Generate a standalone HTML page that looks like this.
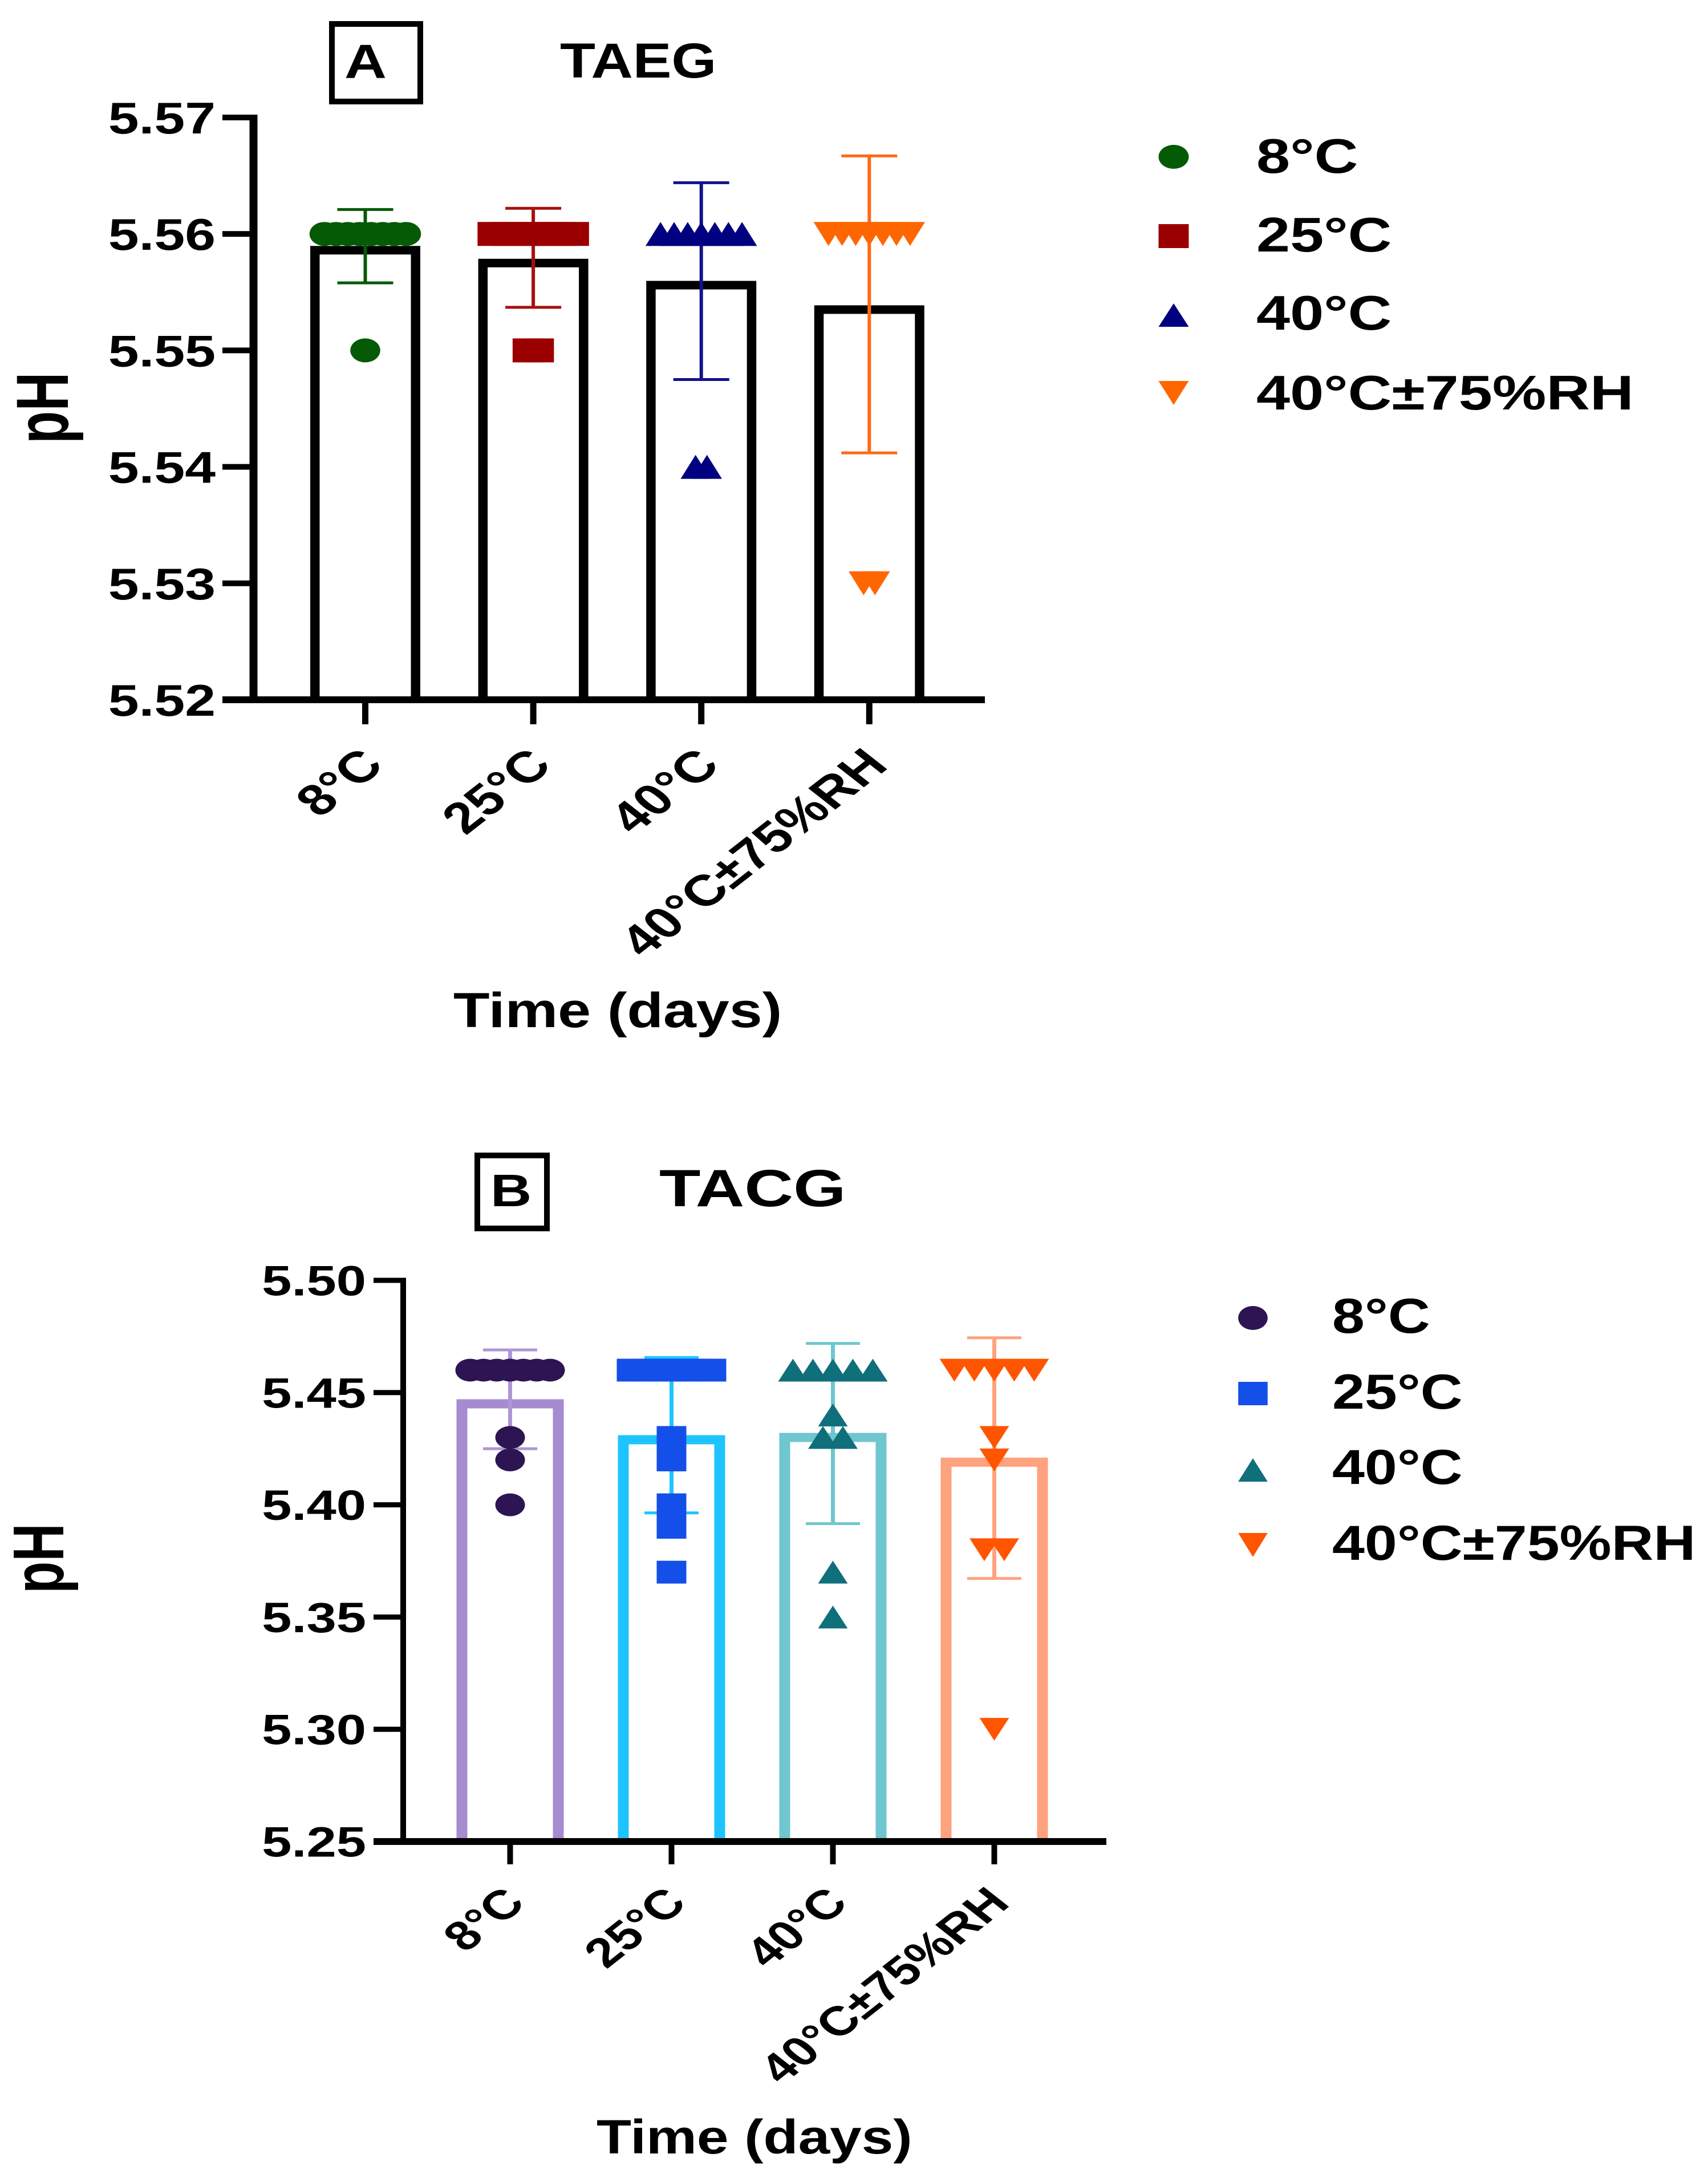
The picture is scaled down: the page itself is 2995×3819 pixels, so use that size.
<!DOCTYPE html>
<html lang="en">
<head>
<meta charset="utf-8">
<title>TAEG and TACG pH bar charts</title>
<style>
html,body{margin:0;padding:0;background:#fff;width:2995px;height:3819px;overflow:hidden}
svg{display:block}
text{font-family:"Liberation Sans",Arial,sans-serif;font-weight:bold;fill:#000}
</style>
</head>
<body>
<svg id="figure" xmlns="http://www.w3.org/2000/svg" width="2995" height="3819" viewBox="0 0 2995 3819">
  <rect x="0" y="0" width="2995" height="3819" fill="#fff"/>

  <g id="panel-a">
    <rect x="582" y="42" width="155" height="136" fill="none" stroke="#000" stroke-width="10"/>
    <text transform="translate(604,137) scale(1.22,1)" font-size="84">A</text>
    <text transform="translate(982,136) scale(1.18,1)" font-size="86">TAEG</text>
    <text transform="translate(119,778) scale(1.38,1) rotate(-90)" font-size="94">pH</text>
    <text transform="translate(795,1801) scale(1.21,1)" font-size="86">Time (days)</text>
    <g>
      <ellipse cx="2058" cy="275" rx="26.5" ry="21" fill="#045a05"/>
      <text transform="translate(2203,303) scale(1.25,1)" font-size="85">8°C</text>
      <rect x="2031.5" y="393" width="53" height="42" fill="#9b0000"/>
      <text transform="translate(2203,441) scale(1.25,1)" font-size="85">25°C</text>
      <polygon points="2058,532 2084.5,573 2031.5,573" fill="#000080"/>
      <text transform="translate(2203,578) scale(1.25,1)" font-size="85">40°C</text>
      <polygon points="2031.5,668 2084.5,668 2058,710" fill="#ff6600"/>
      <text transform="translate(2203,718) scale(1.25,1)" font-size="85">40°C±75%RH</text>
    </g>
  </g>

  <g id="panel-b">
    <rect x="837" y="2026" width="122" height="128" fill="none" stroke="#000" stroke-width="10"/>
    <text transform="translate(860,2115) scale(1.25,1)" font-size="80">B</text>
    <text transform="translate(1156,2115) scale(1.29,1)" font-size="92">TACG</text>
    <text transform="translate(111,2794) scale(1.37,1) rotate(-90)" font-size="92">pH</text>
    <text transform="translate(1046,3776) scale(1.19,1)" font-size="84">Time (days)</text>
    <g>
      <ellipse cx="2197" cy="2311" rx="25.8" ry="21" fill="#2d1452"/>
      <text transform="translate(2336,2337) scale(1.19,1)" font-size="86">8°C</text>
      <rect x="2171.2" y="2423" width="51.6" height="41" fill="#134fe8"/>
      <text transform="translate(2336,2470) scale(1.19,1)" font-size="86">25°C</text>
      <polygon points="2197,2557 2222.8,2598 2171.2,2598" fill="#0f6f7a"/>
      <text transform="translate(2336,2602) scale(1.19,1)" font-size="86">40°C</text>
      <polygon points="2171.2,2688 2222.8,2688 2197,2730" fill="#ff5500"/>
      <text transform="translate(2336,2735) scale(1.19,1)" font-size="86">40°C±75%RH</text>
    </g>
  </g>
</svg>

<script>
// Shared categories
const categories = ['8°C', '25°C', '40°C', '40°C±75%RH'];

// Panel A (TAEG) data
const taegTickLabels = ['5.52', '5.53', '5.54', '5.55', '5.56', '5.57'];
const taegMeans = [5.5586, 5.5575, 5.5556, 5.5535];
const taegErrorUpper = [5.5621, 5.5622, 5.5644, 5.5667];
const taegErrorLower = [5.5558, 5.5537, 5.5475, 5.5412];
const taegPoints8C = [5.56, 5.56, 5.56, 5.56, 5.56, 5.56, 5.56, 5.56, 5.55];
const taegPoints25C = [5.56, 5.56, 5.56, 5.56, 5.56, 5.56, 5.56, 5.55, 5.55];
const taegPoints40C = [5.56, 5.56, 5.56, 5.56, 5.56, 5.56, 5.56, 5.54, 5.54];
const taegPoints40CRH = [5.56, 5.56, 5.56, 5.56, 5.56, 5.56, 5.56, 5.53, 5.53];

// Panel B (TACG) data
const tacgTickLabels = ['5.25', '5.30', '5.35', '5.40', '5.45', '5.50'];
const tacgMeans = [5.445, 5.429, 5.430, 5.419];
const tacgErrorUpper = [5.469, 5.4656, 5.4719, 5.4744];
const tacgErrorLower = [5.425, 5.3964, 5.3916, 5.3672];
const tacgPoints8C = [5.46, 5.46, 5.46, 5.46, 5.46, 5.46, 5.46, 5.43, 5.42, 5.40];
const tacgPoints25C = [5.46, 5.46, 5.46, 5.46, 5.46, 5.46, 5.43, 5.42, 5.40, 5.39, 5.37];
const tacgPoints40C = [5.46, 5.46, 5.46, 5.46, 5.46, 5.44, 5.43, 5.43, 5.37, 5.35];
const tacgPoints40CRH = [5.46, 5.46, 5.46, 5.46, 5.46, 5.43, 5.42, 5.38, 5.38, 5.30];

const SVG_NS = 'http://www.w3.org/2000/svg';
const markerShapes = ['circle', 'square', 'up', 'down'];
const groupSlugs = ['8c', '25c', '40c', '40c-75rh'];

function make(parent, tag, attrs, name, text) {
  const el = document.createElementNS(SVG_NS, tag);
  for (const key in attrs) el.setAttribute(key, attrs[key]);
  
  
  if (text !== undefined) el.textContent = text;
  parent.appendChild(el);
  return el;
}

function drawMarker(parent, shape, cx, cy, w, h, fill, name) {
  const hw = w / 2, hh = h / 2;
  if (shape === 'circle') {
    make(parent, 'ellipse', {cx: cx, cy: cy, rx: hw, ry: hh, fill: fill}, name);
  } else if (shape === 'square') {
    make(parent, 'rect', {x: cx - hw, y: cy - hh, width: w, height: h, fill: fill}, name);
  } else if (shape === 'up') {
    make(parent, 'polygon', {points: `${cx},${cy - hh} ${cx + hw},${cy + hh} ${cx - hw},${cy + hh}`, fill: fill}, name);
  } else {
    make(parent, 'polygon', {points: `${cx - hw},${cy - hh} ${cx + hw},${cy - hh} ${cx},${cy + hh}`, fill: fill}, name);
  }
}

function drawPanel(cfg) {
  const root = document.getElementById(cfg.id);
  const ticks = cfg.tickLabels.map(Number);
  const vMin = ticks[0], vMax = ticks[ticks.length - 1];
  const yScale = v => cfg.yBottom - (v - vMin) / (vMax - vMin) * (cfg.yBottom - cfg.yTop);
  const xScale = i => cfg.xFirst + i * cfg.xStep;

  // Bars
  cfg.means.forEach((m, i) => {
    const cx = xScale(i), top = yScale(m) - cfg.barTopStroke / 2, hw = cfg.barHalfWidth;
    const x0 = cx - hw, x1 = cx + hw, b = cfg.yBottom;
    const sx = cfg.barSideStroke, st = cfg.barTopStroke;
    const d = `M${x0} ${b}V${top}H${x1}V${b}H${x1 - sx}V${top + st}H${x0 + sx}V${b}Z`;
    make(root, 'path', {d: d, fill: cfg.barColors[i]}, 'bar-' + groupSlugs[i]);
  });

  // Axes
  make(root, 'rect', {x: cfg.axisX - cfg.yAxisWidth / 2, y: cfg.yTop - cfg.yTickWidth / 2, width: cfg.yAxisWidth, height: cfg.yBottom - cfg.yTop + cfg.yTickWidth / 2}, 'y-axis-line');
  make(root, 'rect', {x: cfg.tickLeft, y: cfg.yBottom - cfg.xAxisWidth / 2, width: cfg.axisRight - cfg.tickLeft, height: cfg.xAxisWidth}, 'x-axis-line');

  // Y ticks and labels
  ticks.forEach((t, i) => {
    const y = yScale(t);
    if (i > 0) make(root, 'rect', {x: cfg.tickLeft, y: y - cfg.yTickWidth / 2, width: cfg.axisX - cfg.tickLeft, height: cfg.yTickWidth}, 'y-tick-' + cfg.tickLabels[i]);
    make(root, 'text', {transform: `translate(${cfg.tickLabelRight},${y + cfg.tickBaseline}) scale(${cfg.tickScale},1)`, 'font-size': cfg.tickFont, 'text-anchor': 'end'}, 'y-tick-label-' + cfg.tickLabels[i], cfg.tickLabels[i]);
  });

  // X ticks and rotated labels
  categories.forEach((c, i) => {
    const x = xScale(i);
    make(root, 'rect', {x: x - cfg.xTickWidth / 2, y: cfg.yBottom, width: cfg.xTickWidth, height: cfg.xTickLen}, 'x-tick-' + groupSlugs[i]);
    make(root, 'text', {transform: `translate(${x + cfg.catDx},${cfg.catY}) scale(${cfg.catScale},1) rotate(-45)`, 'font-size': cfg.catFont, 'text-anchor': 'end'}, 'x-tick-label-' + groupSlugs[i], c);
  });

  // Error bars
  cfg.means.forEach((m, i) => {
    const x = xScale(i), up = yScale(cfg.errUpper[i]), lo = yScale(cfg.errLower[i]);
    const g = make(root, 'g', {fill: 'none', stroke: cfg.errColors[i]}, 'error-bar-' + groupSlugs[i]);
    make(g, 'path', {d: `M${x} ${up}V${lo}`, 'stroke-width': cfg.errWidth}, 'error-stem-' + groupSlugs[i]);
    make(g, 'path', {d: `M${x - cfg.capHalf} ${up}H${x + cfg.capHalf}M${x - cfg.capHalf} ${lo}H${x + cfg.capHalf}`, 'stroke-width': cfg.capWidth}, 'error-caps-' + groupSlugs[i]);
  });

  // Replicate points
  cfg.points.forEach((pts, i) => {
    const g = make(root, 'g', {}, 'points-' + groupSlugs[i]);
    const rows = new Map();
    pts.forEach(v => rows.set(v, (rows.get(v) || 0) + 1));
    rows.forEach((n, v) => {
      const spacing = n >= 3 ? cfg.rowSpan / (n - 1) : cfg.pairSpacing;
      for (let k = 0; k < n; k++) {
        const px = xScale(i) + (k - (n - 1) / 2) * spacing;
        drawMarker(g, markerShapes[i], px, yScale(v), cfg.markW, cfg.markH, cfg.markColors[i], 'point-' + groupSlugs[i]);
      }
    });
  });
}

drawPanel({
  id: 'panel-a',
  tickLabels: taegTickLabels,
  means: taegMeans,
  errUpper: taegErrorUpper,
  errLower: taegErrorLower,
  points: [taegPoints8C, taegPoints25C, taegPoints40C, taegPoints40CRH],
  yTop: 206, yBottom: 1227,
  xFirst: 640.5, xStep: 294.6,
  axisX: 444.5, tickLeft: 390, axisRight: 1727,
  yAxisWidth: 14, xAxisWidth: 12, yTickWidth: 10, xTickWidth: 11, xTickLen: 43,
  barHalfWidth: 96.5, barSideStroke: 16.5, barTopStroke: 15,
  barColors: ['#000', '#000', '#000', '#000'],
  errColors: ['#045a05', '#a80f0f', '#12128c', '#ff6a14'],
  markColors: ['#045a05', '#9b0000', '#000080', '#ff6600'],
  errWidth: 6, capWidth: 5, capHalf: 49,
  markW: 52.5, markH: 42, rowSpan: 143, pairSpacing: 20,
  tickLabelRight: 378, tickBaseline: 28, tickFont: 78, tickScale: 1.24,
  catDx: 36, catY: 1345, catFont: 76.5, catScale: 1.28
});

drawPanel({
  id: 'panel-b',
  tickLabels: tacgTickLabels,
  means: tacgMeans,
  errUpper: tacgErrorUpper,
  errLower: tacgErrorLower,
  points: [tacgPoints8C, tacgPoints25C, tacgPoints40C, tacgPoints40CRH],
  yTop: 2245, yBottom: 3229,
  xFirst: 894.5, xStep: 283,
  axisX: 707, tickLeft: 655, axisRight: 1940,
  yAxisWidth: 10, xAxisWidth: 12, yTickWidth: 9, xTickWidth: 10, xTickLen: 40,
  barHalfWidth: 94, barSideStroke: 19, barTopStroke: 16,
  barColors: ['#a68bd1', '#1ec4ff', '#6fc6ce', '#ffa27e'],
  errColors: ['#ae95d6', '#1ec4ff', '#6fc6ce', '#ffa27e'],
  markColors: ['#2d1452', '#134fe8', '#0f6f7a', '#ff5500'],
  errWidth: 7, capWidth: 5, capHalf: 47.5,
  markW: 52, markH: 40, rowSpan: 140, pairSpacing: 35,
  tickLabelRight: 642, tickBaseline: 26.5, tickFont: 74, tickScale: 1.27,
  catDx: 30, catY: 3340, catFont: 72, catScale: 1.27
});
</script>
</body>
</html>
